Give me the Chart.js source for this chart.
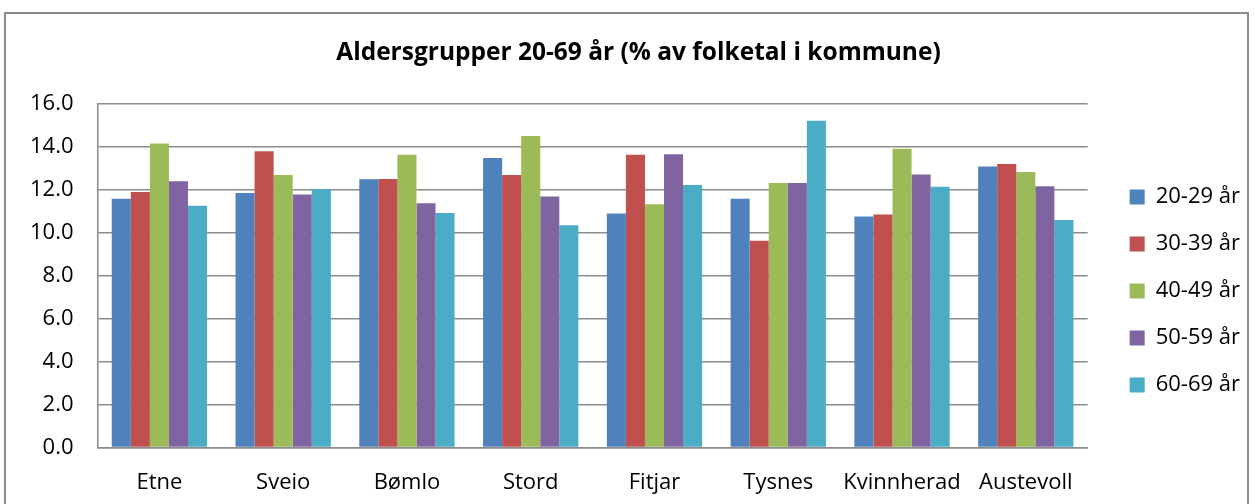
<!DOCTYPE html>
<html>
<head>
<meta charset="utf-8">
<script src="https://cdn.jsdelivr.net/npm/chart.js@4/dist/chart.umd.min.js"></script>
<style>
  body { margin: 0; background: #fff; }
  #frame { position: absolute; left: 4px; top: 12px; width: 1245px; height: 520px; border: 2px solid #8c8c8c; box-sizing: border-box; }
  #wrap { position: absolute; left: 0; top: 0; width: 1255px; height: 504px; }
</style>
</head>
<body>
<div id="frame"></div>
<div id="wrap"><canvas id="ageChart"></canvas></div>
<script>
// kommunar
const kommunar = ['Etne', 'Sveio', 'Bømlo', 'Stord', 'Fitjar', 'Tysnes', 'Kvinnherad', 'Austevoll']

// aldersgrupper, % av folketal
const age20_29 = [11.57, 11.84, 12.47, 13.46, 10.88, 11.57, 10.74, 13.07]
const age30_39 = [11.88, 13.77, 12.49, 12.67, 13.61, 9.62, 10.83, 13.18]
const age40_49 = [14.14, 12.67, 13.61, 14.48, 11.31, 12.30, 13.89, 12.81]
const age50_59 = [12.38, 11.76, 11.36, 11.67, 13.64, 12.30, 12.69, 12.15]
const age60_69 = [11.24, 12.01, 10.91, 10.34, 12.21, 15.19, 12.12, 10.58]

const seriesNames = ['20-29 år', '30-39 år', '40-49 år', '50-59 år', '60-69 år']
const colors = ['#4F81BD', '#C0504D', '#9BBB59', '#8064A2', '#4BACC6']

const FONT = "'Open Sans', sans-serif"

const values = [age20_29, age30_39, age40_49, age50_59, age60_69]
const datasets = values.map((arr, i) => ({
    label: seriesNames[i],
    data: arr,
    backgroundColor: colors[i],
    borderWidth: 0,
    categoryPercentage: 0.77,
    barPercentage: 1.0
}))

// nudge legend and title a bit, like the excel original
const boxShift = {
    id: 'boxShift',
    afterLayout(chart) {
        const l = chart.legend
        if (l) {
            l.left += 17; l.right += 17
            l.top += 32; l.bottom += 32
        }
        const t = chart.titleBlock
        if (t) { t.left += 19; t.right += 19 }
    }
}

const canvas = document.getElementById('ageChart')
canvas.width = 1255
canvas.height = 504

new Chart(canvas, {
    type: 'bar',
    data: { labels: kommunar, datasets: datasets },
    plugins: [boxShift],
    options: {
        responsive: false,
        animation: false,
        devicePixelRatio: 1,
        layout: { padding: { left: 6, right: 22, top: 0, bottom: -14 } },
        plugins: {
            title: {
                display: true,
                text: 'Aldersgrupper 20-69 år (% av folketal i kommune)',
                color: '#000',
                font: { family: FONT, size: 24.5, weight: 'bold' },
                padding: { top: 38, bottom: 36 }
            },
            legend: {
                position: 'right',
                labels: {
                    color: '#000',
                    font: { family: FONT, size: 22 },
                    boxWidth: 15,
                    boxHeight: 15,
                    padding: 25
                }
            },
            tooltip: { enabled: false }
        },
        scales: {
            x: {
                grid: { display: false, drawTicks: false },
                border: { color: '#8c8c8c', width: 1.5 },
                ticks: { color: '#000', font: { family: FONT, size: 22 }, padding: 22, maxRotation: 0 }
            },
            y: {
                min: 0,
                max: 16,
                ticks: {
                    stepSize: 2,
                    color: '#000',
                    font: { family: FONT, size: 22 },
                    padding: 24,
                    callback: v => v.toFixed(1)
                },
                grid: { color: '#8c8c8c', lineWidth: 1.5, drawTicks: false },
                border: { color: '#8c8c8c', width: 1.5 }
            }
        }
    }
})
</script>
</body>
</html>
